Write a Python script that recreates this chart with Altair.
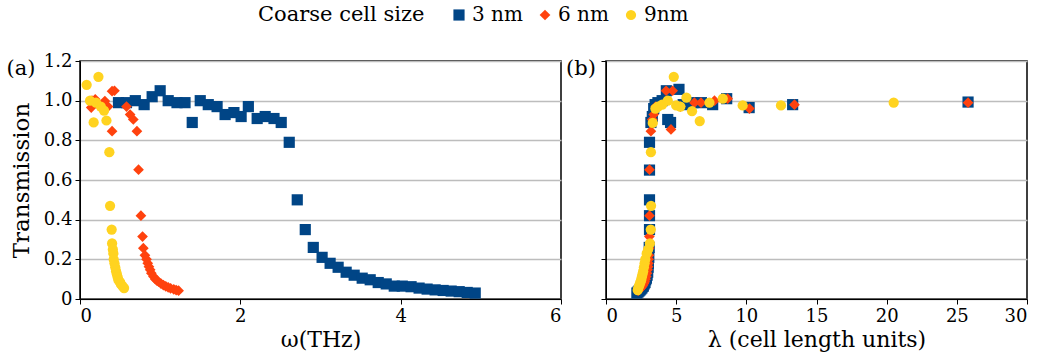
import altair as alt
import pandas as pd

series_names = ["3 nm", "6 nm", "9nm"]
series_colors = ["#004586", "#ff420e", "#ffd320"]
series_shapes = ["square", "diamond", "circle"]
series_sizes = [125, 105, 115]

# ---------- Panel (a): transmission vs omega (THz) ----------
omega_3nm = [0.48, 0.58, 0.69, 0.80, 0.90, 1.00, 1.10, 1.21, 1.31, 1.40, 1.50, 1.60,
             1.71, 1.81, 1.92, 2.01, 2.10, 2.21, 2.31, 2.42, 2.51, 2.61, 2.71, 2.81,
             2.91, 3.02, 3.12, 3.22, 3.32, 3.42, 3.52, 3.62, 3.72, 3.82, 3.92, 4.02,
             4.13, 4.23, 4.33, 4.43, 4.53, 4.63, 4.73, 4.83, 4.93]
trans_omega_3nm = [0.99, 0.99, 1.00, 0.98, 1.02, 1.05, 1.00, 0.99, 0.99, 0.89, 1.00, 0.98,
                   0.97, 0.93, 0.94, 0.92, 0.97, 0.91, 0.92, 0.91, 0.89, 0.79, 0.50, 0.35,
                   0.26, 0.21, 0.18, 0.16, 0.135, 0.12, 0.105, 0.097, 0.083, 0.076, 0.065, 0.065,
                   0.062, 0.055, 0.05, 0.046, 0.043, 0.04, 0.037, 0.033, 0.03]

omega_6nm = [0.14, 0.15, 0.19, 0.23, 0.25, 0.31, 0.35, 0.40, 0.43, 0.40, 0.58, 0.625,
             0.665, 0.71, 0.73, 0.76, 0.78, 0.79, 0.81, 0.83, 0.845, 0.86, 0.875, 0.89,
             0.916, 0.94, 0.96, 0.98, 1.01, 1.04, 1.07, 1.10, 1.13, 1.17, 1.20, 1.23]
trans_omega_6nm = [0.965, 1.0, 1.007, 0.98, 0.975, 0.998, 0.97, 1.048, 1.05, 0.846, 0.97, 0.93,
                   0.905, 0.846, 0.652, 0.42, 0.315, 0.256, 0.22, 0.2, 0.18, 0.163, 0.147, 0.13,
                   0.113, 0.1, 0.093, 0.087, 0.078, 0.07, 0.064, 0.059, 0.054, 0.049, 0.045, 0.042]

omega_9nm = [0.083, 0.23, 0.125, 0.17, 0.20, 0.26, 0.30, 0.33, 0.366, 0.375, 0.395, 0.40,
             0.41, 0.416, 0.42, 0.43, 0.44, 0.45, 0.46, 0.47, 0.48, 0.50, 0.51, 0.53, 0.55]
trans_omega_9nm = [1.08, 1.12, 1.0, 0.89, 0.99, 0.97, 0.95, 0.90, 0.74, 0.47, 0.35, 0.28,
                   0.25, 0.23, 0.2, 0.18, 0.16, 0.14, 0.125, 0.11, 0.095, 0.085, 0.075, 0.065, 0.055]

# ---------- Panel (b): transmission vs lambda (cell length units) ----------
lam_3nm = [2.2, 2.28, 2.35, 2.42, 2.48, 2.55, 2.6, 2.66, 2.72, 2.78, 2.83, 2.88,
           2.93, 2.97, 3.0, 3.02, 3.05, 3.08, 3.1, 3.1, 3.1, 3.1, 3.1, 3.2,
           3.3, 3.4, 3.5, 3.7, 4.0, 4.3, 4.4, 4.6, 5.2, 5.5, 6.2, 6.8,
           7.6, 8.6, 10.2, 13.3, 25.8]
trans_lam_3nm = [0.03, 0.035, 0.04, 0.045, 0.05, 0.055, 0.062, 0.065, 0.076, 0.083, 0.097, 0.105,
                 0.12, 0.135, 0.16, 0.18, 0.21, 0.26, 0.35, 0.42, 0.50, 0.65, 0.79, 0.89,
                 0.92, 0.96, 0.98, 0.99, 1.0, 1.05, 0.905, 0.89, 1.057, 0.98, 0.99, 0.99,
                 0.98, 1.01, 0.965, 0.98, 0.993]

lam_6nm = [2.3, 2.38, 2.45, 2.52, 2.58, 2.64, 2.7, 2.76, 2.82, 2.87, 2.92, 2.96,
           3.0, 3.02, 3.04, 3.06, 3.08, 3.09, 3.1, 3.1, 3.2, 3.3, 3.4, 3.55,
           4.28, 4.75, 4.63, 5.3, 6.3, 6.77, 7.73, 8.67, 10.22, 13.43, 25.8]
trans_lam_6nm = [0.042, 0.049, 0.054, 0.059, 0.064, 0.07, 0.078, 0.087, 0.1, 0.113, 0.13, 0.147,
                 0.163, 0.18, 0.2, 0.22, 0.256, 0.315, 0.42, 0.652, 0.846, 0.905, 0.93, 0.97,
                 1.05, 1.05, 0.855, 0.97, 0.99, 0.99, 1.0, 1.01, 0.96, 0.98, 0.99]

lam_9nm = [2.26, 2.3, 2.35, 2.4, 2.45, 2.5, 2.55, 2.6, 2.65, 2.7, 2.75, 2.8,
           2.9, 3.0, 3.13, 3.19, 3.21, 3.2, 3.33, 3.52, 3.7, 4.0, 4.4, 4.83,
           5.0, 5.3, 5.73, 6.13, 6.68, 7.37, 8.32, 9.74, 12.47, 20.5]
trans_lam_9nm = [0.045, 0.055, 0.065, 0.075, 0.085, 0.095, 0.11, 0.125, 0.14, 0.16, 0.18, 0.2,
                 0.23, 0.25, 0.28, 0.35, 0.47, 0.74, 0.888, 0.96, 0.97, 0.98, 1.0, 1.12,
                 0.976, 0.97, 1.015, 0.947, 0.897, 0.99, 1.01, 0.976, 0.976, 0.99]

y_ticks = [0, 0.2, 0.4, 0.6, 0.8, 1.0, 1.2]
x_ticks_a = [0, 2, 4, 6]
x_ticks_b = [0, 5, 10, 15, 20, 25, 30]


def build(xs_list, ys_list):
    rows = []
    for name, xs, ys in zip(series_names, xs_list, ys_list):
        for xv, yv in zip(xs, ys):
            rows.append({"x": xv, "T": yv, "series": name})
    return pd.DataFrame(rows)


df_a = build([omega_3nm, omega_6nm, omega_9nm],
             [trans_omega_3nm, trans_omega_6nm, trans_omega_9nm])
df_b = build([lam_3nm, lam_6nm, lam_9nm],
             [trans_lam_3nm, trans_lam_6nm, trans_lam_9nm])

FONT = "DejaVu Serif"

legend = alt.Legend(
    title="Coarse cell size", orient="none", legendX=178, legendY=-56,
    direction="horizontal", titleOrient="left", titlePadding=24,
    titleFontSize=21, titleFontWeight="normal", titleFont=FONT,
    labelFontSize=20, labelFont=FONT, labelOffset=3, columnPadding=12,
    symbolSize=150, symbolStrokeWidth=0, titleBaseline="middle",
)

color_enc = alt.Color("series:N", scale=alt.Scale(domain=series_names, range=series_colors),
                      legend=legend)
shape_enc = alt.Shape("series:N", scale=alt.Scale(domain=series_names, range=series_shapes),
                      legend=legend)
size_enc = alt.Size("series:N", scale=alt.Scale(domain=series_names, range=series_sizes),
                    legend=None)

y_label_expr = "datum.value == 0 ? '0' : format(datum.value, '.1f')"


def panel(df, xdom, xticks, xtitle, show_y_labels, tag, tag_x, width):
    y_axis = alt.Axis(values=y_ticks, grid=True, labelExpr=y_label_expr,
                      labels=show_y_labels, title="Transmission" if show_y_labels else None,
                      titleFontSize=23, titlePadding=10)
    pts = alt.Chart(df).mark_point(filled=True, opacity=1, strokeWidth=0).encode(
        x=alt.X("x:Q", scale=alt.Scale(domain=xdom, nice=False),
                axis=alt.Axis(values=xticks, grid=False, title=xtitle, format="d",
                              titleFontSize=22, titlePadding=4)),
        y=alt.Y("T:Q", scale=alt.Scale(domain=[0, 1.2], nice=False), axis=y_axis),
        color=color_enc, shape=shape_enc, size=size_enc,
    )
    lab = alt.Chart(pd.DataFrame({"t": [tag]})).mark_text(
        font=FONT, fontSize=21, align="center", baseline="middle", color="black"
    ).encode(x=alt.value(tag_x), y=alt.value(8), text="t:N")
    return alt.layer(pts, lab).properties(width=width, height=238)


left = panel(df_a, [0, 6], x_ticks_a, "ω(THz)", True, "(a)", -59, 481)
right = panel(df_b, [0, 30], x_ticks_b, "λ (cell length units)", False, "(b)", -25, 421)

chart = alt.hconcat(left, right, spacing=45, bounds="flush").properties(
    padding={"left": 5, "right": 5, "top": 5, "bottom": 2}
).configure(font=FONT).configure_view(stroke="black", strokeWidth=1.5).configure_axis(
    labelFont=FONT, titleFont=FONT, labelFontSize=18, labelColor="black",
    titleColor="black", titleFontWeight="normal", domainColor="black",
    tickColor="black", gridColor="#bdbdbd", gridWidth=1.3, tickSize=5,
    labelPadding=3,
)

chart.save("out.html", embed_options={"renderer": "svg", "actions": False})
